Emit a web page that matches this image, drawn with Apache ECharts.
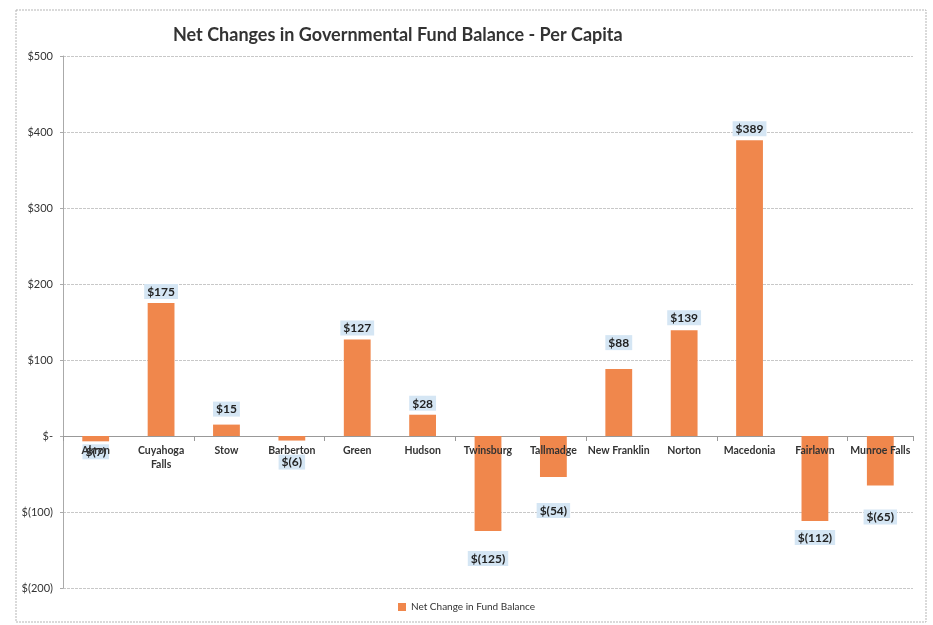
<!DOCTYPE html>
<html>
<head>
<meta charset="utf-8">
<script src="https://cdn.jsdelivr.net/npm/echarts@6/dist/echarts.min.js"></script>
<style>
  html, body { margin: 0; padding: 0; background: #fff; }
  #myChart { width: 933px; height: 625px; }
</style>
</head>
<body>
<div id="myChart"></div>
<script>
// 城市
var cities = ['Akron', 'Cuyahoga\nFalls', 'Stow', 'Barberton', 'Green', 'Hudson', 'Twinsburg',
    'Tallmadge', 'New Franklin', 'Norton', 'Macedonia', 'Fairlawn', 'Munroe Falls'];
// 人均变化
var netChange = [-7, 175, 15, -6, 127, 28, -125, -54, 88, 139, 389, -112, -65];
// 标签距柱子的距离
var labelGap = [3, 4, 8, 14, 4, 4, 20, 26, 19, 5, 4, 9, 24];

function money(v) {
    if (v === 0) return '$-';
    return v < 0 ? '$(' + Math.abs(v) + ')' : '$' + v;
}

var myChart = echarts.init(document.getElementById('myChart'));
var font = 'Lato, "Open Sans", sans-serif';

var option = {
    backgroundColor: '#fff',
    animation: false,
    title: {
        text: 'Net Changes in Governmental Fund Balance - Per Capita',
        left: 168,
        top: 21,
        textStyle: { fontFamily: font, fontSize: 18, fontWeight: 'bold', color: '#333' }
    },
    legend: {
        bottom: 8,
        left: 'center',
        itemWidth: 8,
        itemHeight: 8,
        icon: 'rect',
        textStyle: { fontFamily: font, fontSize: 10, color: '#333' },
        data: ['Net Change in Fund Balance']
    },
    grid: { left: 63, right: 20, top: 56, bottom: 37 },
    graphic: [{
        type: 'rect',
        shape: { x: 16, y: 10, width: 910, height: 612 },
        style: { fill: 'none', stroke: '#b5b5b5', lineWidth: 1, lineDash: [2, 1] },
        silent: true
    }],
    xAxis: {
        type: 'category',
        data: cities,
        axisLine: { onZero: true, lineStyle: { color: '#999' } },
        axisTick: { show: true, lineStyle: { color: '#999' } },
        axisLabel: { show: false }
    },
    yAxis: {
        type: 'value',
        min: -200,
        max: 500,
        interval: 100,
        axisLine: { show: true, lineStyle: { color: '#aaa' } },
        axisTick: { show: true, length: 3, lineStyle: { color: '#aaa' } },
        axisLabel: {
            fontFamily: font, fontSize: 11, color: '#333', margin: 10,
            formatter: function (v) { return money(v); }
        },
        splitLine: { lineStyle: { color: '#c8c8c8', type: [3, 1] } }
    },
    series: [{
        name: 'Net Change in Fund Balance',
        type: 'bar',
        barWidth: '41%',
        z: 2,
        itemStyle: { color: '#F0874C' },
        data: netChange.map(function (v, i) {
            return {
                value: v,
                label: { position: v < 0 ? 'bottom' : 'top', distance: labelGap[i] }
            };
        }),
        label: {
            show: true,
            fontFamily: font,
            fontSize: 12,
            fontWeight: 'bold',
            color: '#222',
            backgroundColor: '#D5E6F4',
            padding: [2, 3, 1, 3],
            formatter: function (p) { return money(p.value); }
        }
    }, {
        // 类目标签放在零线下方
        name: 'cityLabel',
        type: 'bar',
        barWidth: '41%',
        barGap: '-100%',
        silent: true,
        z: 3,
        itemStyle: { color: 'transparent' },
        data: cities.map(function () { return 0; }),
        label: {
            show: true,
            position: 'bottom',
            distance: 8,
            fontFamily: font,
            fontSize: 10.5,
            fontWeight: 'bold',
            color: '#333',
            lineHeight: 14,
            formatter: function (p) { return p.name; }
        }
    }]
};
myChart.setOption(option);
window.onresize = myChart.resize;
</script>
</body>
</html>
